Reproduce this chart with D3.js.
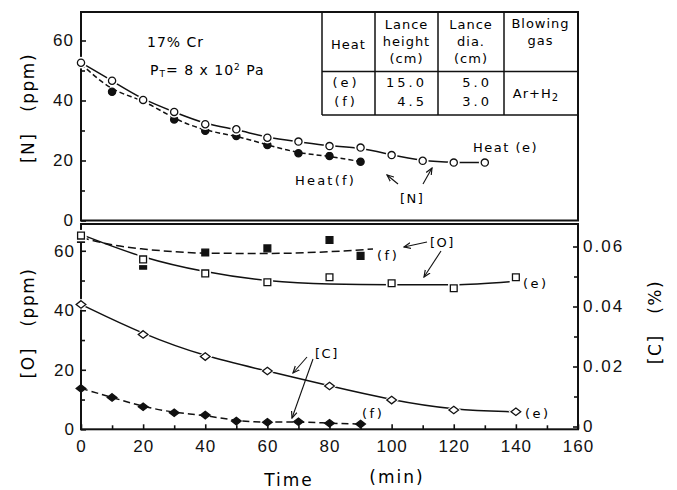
<!DOCTYPE html>
<html>
<head>
<meta charset="utf-8">
<script src="https://cdn.jsdelivr.net/npm/d3@7"></script>
<style>
body { margin: 0; background: #fff; }
svg { font-family: "DejaVu Sans", sans-serif; }
.tick text { font-size: 17px; letter-spacing: 1px; fill: #111; }
.tick line { stroke: #111; stroke-width: 1.6; }
</style>
</head>
<body>
<svg id="chart" width="677" height="490"></svg>
<script>
// ---- data ----
var timeN = [0, 10, 20, 30, 40, 50, 60, 70, 80, 90, 100, 110, 120, 130];
var nHeatE = [52.6, 46.6, 40.2, 36.2, 32.1, 30.4, 27.6, 26.3, 24.8, 24.3, 21.8, 19.9, 19.3, 19.3];
var timeNF = [0, 10, 20, 30, 40, 50, 60, 70, 80, 90];
var nHeatF = [52.2, 42.9, 40.4, 33.7, 29.9, 28.2, 25.2, 22.4, 21.5, 19.6];

var timeOE = [0, 20, 40, 60, 80, 100, 120, 140];
var oHeatE = [65.1, 57.1, 52.4, 49.4, 51.1, 49.1, 47.4, 51.1];
var timeOF = [0, 20, 40, 60, 80, 90];
var oHeatF = [64.0, 55.0, 59.4, 60.8, 63.6, 58.3];

// fitted curves for [O] (drawn through the scatter, not the points)
var oFitTimeE = [0, 20, 40, 60, 80, 100, 120, 138];
var oFitE = [65.5, 58.0, 53.0, 50.0, 48.8, 48.6, 48.6, 49.6];
var oFitTimeF = [0, 10, 20, 30, 40, 60, 80, 94];
var oFitF = [64.5, 62.0, 60.6, 59.7, 59.2, 59.1, 59.7, 60.6];

var timeCE = [0, 20, 40, 60, 80, 100, 120, 140];
var cHeatE = [0.0407, 0.0307, 0.0233, 0.0185, 0.0135, 0.0088, 0.0055, 0.0049];
var timeCF = [0, 10, 20, 30, 40, 50, 60, 70, 80, 90];
var cHeatF = [0.0127, 0.0097, 0.0066, 0.0046, 0.0038, 0.0018, 0.0014, 0.0016, 0.0011, 0.0008];

var xTicks = [0, 20, 40, 60, 80, 100, 120, 140, 160];
var xMinor = [10, 30, 50, 70, 90, 110, 130, 150];
var ppmTicks = [0, 20, 40, 60];
var ppmMinor = [10, 30, 50];
var cTicks = [0, 0.02, 0.04, 0.06];
var cMinor = [0.01, 0.03, 0.05];

var tableHead = [["Heat"], ["Lance", "height", "(cm)"], ["Lance", "dia.", "(cm)"], ["Blowing", "gas"]];
var tableHeat = ["(e)", "(f)"];
var tableHeight = ["15.0", "4.5"];
var tableDia = ["5.0", "3.0"];

var svg = d3.select("#chart");

var x = d3.scaleLinear().domain([0, 160]).range([81, 578]);
var yN = d3.scaleLinear().domain([0, 69.5]).range([220.5, 12]);
var yO = d3.scaleLinear().domain([0, 69]).range([429.3, 224]);
var yC = d3.scaleLinear().domain([0, 0.0675]).range([426.5, 224]);

function zip(a, b){ return a.map(function(t, i){ return [t, b[i]]; }); }

// frames
svg.append("rect").attr("x", 81).attr("y", 12).attr("width", 497).attr("height", 208.5)
  .attr("fill", "none").attr("stroke", "#111").attr("stroke-width", 2);
svg.append("rect").attr("x", 81).attr("y", 224).attr("width", 497).attr("height", 205.3)
  .attr("fill", "none").attr("stroke", "#111").attr("stroke-width", 2);

// axes
function addAxis(axis, tx, ty){
  var g = svg.append("g").attr("transform", "translate(" + tx + "," + ty + ")").call(axis);
  g.select(".domain").remove();
  return g;
}
addAxis(d3.axisLeft(yN).tickValues(ppmTicks).tickSize(-5).tickPadding(7), 81, 0);
addAxis(d3.axisLeft(yN).tickValues(ppmMinor).tickSize(-4).tickFormat(""), 81, 0);
addAxis(d3.axisLeft(yO).tickValues(ppmTicks).tickSize(-5).tickPadding(6), 81, 0);
addAxis(d3.axisLeft(yO).tickValues(ppmMinor).tickSize(-4).tickFormat(""), 81, 0);
addAxis(d3.axisBottom(x).tickValues(xTicks).tickSize(-5).tickPadding(11), 0, 429.3);
addAxis(d3.axisBottom(x).tickValues(xMinor).tickSize(-4).tickFormat(""), 0, 429.3);
addAxis(d3.axisRight(yC).tickValues(cTicks).tickSize(-5).tickPadding(5)
  .tickFormat(function(d){ return d === 0 ? "0" : d3.format(".2f")(d); }), 578, 0)
  .selectAll("text").style("letter-spacing", "2px");
addAxis(d3.axisRight(yC).tickValues(cMinor).tickSize(-4).tickFormat(""), 578, 0);

// axis titles
function vTitle(txt, tx, ty){
  svg.append("text").attr("transform", "translate(" + tx + "," + ty + ") rotate(-90)")
    .attr("text-anchor", "middle").attr("dy", "0.35em")
    .style("font-size", "17px").style("letter-spacing", "1.5px").style("white-space", "pre")
    .text(txt);
}
vTitle("[N]   (ppm)", 28, 108);
vTitle("[O]   (ppm)", 28, 323);
vTitle("[C]   (%)", 655, 322);
svg.append("text").attr("x", 289).attr("y", 486).attr("text-anchor", "middle")
  .style("font-size", "17px").style("letter-spacing", "2px").text("Time");
svg.append("text").attr("x", 397).attr("y", 483).attr("text-anchor", "middle")
  .style("font-size", "17px").style("letter-spacing", "2px").text("(min)");

// curves
function drawCurve(pts, ys, curve, dash){
  var line = d3.line().x(function(d){ return x(d[0]); }).y(function(d){ return ys(d[1]); }).curve(curve);
  svg.append("path").attr("d", line(pts)).attr("fill", "none").attr("stroke", "#111")
    .attr("stroke-width", 1.5).attr("stroke-dasharray", dash || null);
}
drawCurve(zip(timeN, nHeatE), yN, d3.curveBasis);
drawCurve(zip(timeNF, nHeatF), yN, d3.curveBasis, "5,3");
drawCurve(zip(oFitTimeE, oFitE), yO, d3.curveMonotoneX);
drawCurve(zip(oFitTimeF, oFitF), yO, d3.curveMonotoneX, "8,4");
drawCurve(zip(timeCE, cHeatE), yC, d3.curveBasis);
drawCurve(zip(timeCF, cHeatF), yC, d3.curveBasis, "7,4");

// markers
var shapes = {
  circle: function(s){ return d3.path(); },
};
function markerPath(kind, s){
  if (kind === "circle") return "M" + s + ",0A" + s + "," + s + " 0 1,1 " + (-s) + ",0A" + s + "," + s + " 0 1,1 " + s + ",0Z";
  if (kind === "square") return "M" + (-s) + "," + (-s) + "H" + s + "V" + s + "H" + (-s) + "Z";
  return "M0," + (-s * 0.85) + "L" + (s * 1.1) + ",0L0," + (s * 0.85) + "L" + (-s * 1.1) + ",0Z";
}
function drawMarkers(pts, ys, kind, size, filled, halo){
  var g = svg.append("g");
  if (halo) {
    g.selectAll("path.halo").data(pts).join("path").attr("class", "halo")
      .attr("transform", function(d){ return "translate(" + x(d[0]) + "," + ys(d[1]) + ")"; })
      .attr("d", markerPath(kind, size + 2.3)).attr("fill", "#fff");
  }
  g.selectAll("path.mk").data(pts).join("path").attr("class", "mk")
    .attr("transform", function(d){ return "translate(" + x(d[0]) + "," + ys(d[1]) + ")"; })
    .attr("d", markerPath(kind, size))
    .attr("fill", filled ? "#111" : "#fff").attr("stroke", "#111").attr("stroke-width", 1.3);
}
drawMarkers(zip(timeNF, nHeatF), yN, "circle", 3.6, true, false);
drawMarkers(zip(timeN, nHeatE), yN, "circle", 3.6, false, true);
drawMarkers(zip(timeOF, oHeatF), yO, "square", 3.4, true, false);
drawMarkers(zip(timeOE, oHeatE), yO, "square", 3.4, false, true);
drawMarkers(zip(timeCF, cHeatF), yC, "diamond", 4.4, true, false);
drawMarkers(zip(timeCE, cHeatE), yC, "diamond", 4.4, false, true);

// table
var colX = [322, 375, 438, 504, 577];
var tbl = svg.append("g").attr("stroke", "#111").attr("stroke-width", 1.5);
colX.slice(0, 4).forEach(function(cx){
  tbl.append("line").attr("x1", cx).attr("x2", cx).attr("y1", 12).attr("y2", 115);
});
tbl.append("line").attr("x1", 322).attr("x2", 577).attr("y1", 71.5).attr("y2", 71.5);
tbl.append("line").attr("x1", 322).attr("x2", 577).attr("y1", 115).attr("y2", 115);

function tText(txt, tx, ty, anchor, ls){
  return svg.append("text").attr("x", tx).attr("y", ty).attr("text-anchor", anchor || "middle")
    .style("font-size", "13px").style("letter-spacing", (ls || 1) + "px").text(txt);
}
tableHead.forEach(function(lines, i){
  var cx = (colX[i] + colX[i + 1]) / 2;
  var y0 = lines.length === 1 ? 49 : (lines.length === 2 ? 28 : 29);
  lines.forEach(function(l, j){ tText(l, cx, y0 + j * 17); });
});
tableHeat.forEach(function(t, i){ tText(t, 346, 87 + i * 19, "middle", 3); });
tableHeight.forEach(function(t, i){ tText(t, 427, 87 + i * 19, "end", 3); });
tableDia.forEach(function(t, i){ tText(t, 492, 87 + i * 19, "end", 3); });
var ar = tText("Ar+H", 536, 98, "middle", 1);
ar.append("tspan").attr("dy", 3).style("font-size", "10px").text("2");

// annotations
function note(txt, tx, ty, size, ls){
  return svg.append("text").attr("x", tx).attr("y", ty).style("font-size", (size || 13) + "px")
    .style("letter-spacing", (ls || 1.5) + "px").style("white-space", "pre").text(txt);
}
note("17% Cr", 147, 47, 14, 1);
var pt = note("P", 150, 75, 14, 1);
pt.append("tspan").attr("dy", 2).style("font-size", "9px").text("T");
pt.append("tspan").attr("dy", -2).text("= 8 x 10");
pt.append("tspan").attr("dy", -5).style("font-size", "9px").text("2");
pt.append("tspan").attr("dy", 5).text(" Pa");
note("Heat (e)", 473, 152);
note("Heat(f)", 295, 185, 13, 2.2);
note("[N]", 400, 203);
note("[O]", 430, 247);
note("(f)", 377, 260, 13, 2.5);
note("(e)", 523, 288, 13, 2.5);
note("[C]", 315, 358);
note("(f)", 362, 418, 13, 2.5);
note("(e)", 525, 418, 13, 2.5);

svg.append("defs").append("marker").attr("id", "ah").attr("viewBox", "0 0 8 8")
  .attr("refX", 7).attr("refY", 4).attr("markerWidth", 7).attr("markerHeight", 7)
  .attr("orient", "auto").append("path").attr("d", "M0,1 L7,4 L0,7").attr("fill", "none")
  .attr("stroke", "#111").attr("stroke-width", 1.2);
var arrows = [
  [398, 184, 387, 175], [423, 184, 432, 168],
  [427, 242, 404, 247], [441, 251, 424, 277],
  [307, 357, 293, 373], [313, 359, 292, 418]
];
arrows.forEach(function(a){
  svg.append("line").attr("x1", a[0]).attr("y1", a[1]).attr("x2", a[2]).attr("y2", a[3])
    .attr("stroke", "#111").attr("stroke-width", 1.1).attr("marker-end", "url(#ah)");
});
</script>
</body>
</html>
